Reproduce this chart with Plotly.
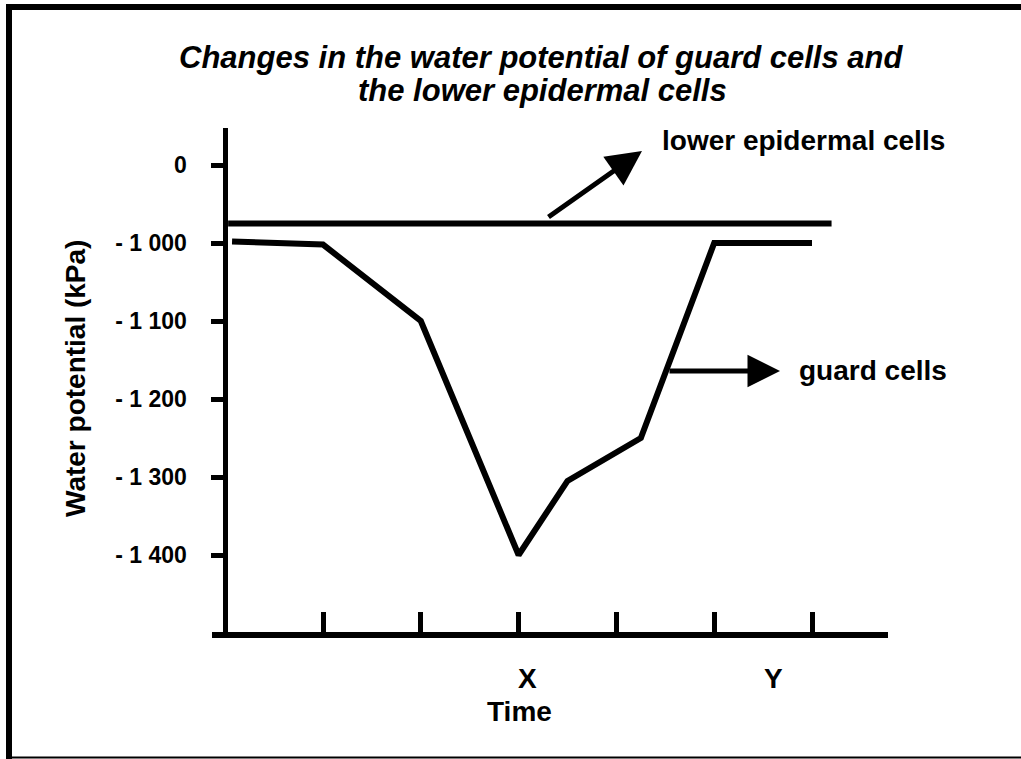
import plotly.graph_objects as go

# ---- data (y values on the displayed scale; the axis is broken so "0" sits one step above -1 000) ----
time_points = [0.07, 1, 2, 3, 3.5, 4.25, 5, 6]
guard_cells = [-998, -1002, -1100, -1400, -1305, -1250, -1000, -1000]
epidermal_time = [0.03, 6.2]
lower_epidermal = [-975, -975]
ytick_vals = [-900, -1000, -1100, -1200, -1300, -1400]
ytick_text = ["0", "- 1 000", "- 1 100", "- 1 200", "- 1 300", "- 1 400"]
xtick_vals = [1, 2, 3, 4, 5, 6]

W, H = 1021, 759
L, R, T, B = 212, 888, 128, 632


def px(x):
    return (x - L) / (R - L)


def py(y):
    return (B - y) / (B - T)


FONT = "Liberation Sans, Arial, sans-serif"

fig = go.Figure()
fig.add_trace(go.Scatter(x=epidermal_time, y=lower_epidermal, mode="lines",
                         line=dict(color="black", width=6), showlegend=False,
                         hoverinfo="skip"))
fig.add_trace(go.Scatter(x=time_points, y=guard_cells, mode="lines",
                         line=dict(color="black", width=6), showlegend=False,
                         hoverinfo="skip"))

ann = []
ann.append(dict(text="<b><i>Changes in the water potential of guard cells and</i></b>",
                xref="paper", yref="paper", x=px(541), y=py(57), xanchor="center",
                yanchor="middle", showarrow=False, font=dict(family=FONT, size=31, color="black")))
ann.append(dict(text="<b><i>the lower epidermal cells</i></b>",
                xref="paper", yref="paper", x=px(542), y=py(90), xanchor="center",
                yanchor="middle", showarrow=False, font=dict(family=FONT, size=31, color="black")))
ann.append(dict(text="<b>Water potential (kPa)</b>", textangle=-90,
                xref="paper", yref="paper", x=px(75), y=py(379), xanchor="center",
                yanchor="middle", showarrow=False, font=dict(family=FONT, size=28, color="black")))
ann.append(dict(text="<b>X</b>", xref="paper", yref="paper", x=px(527), y=py(678),
                xanchor="center", yanchor="middle", showarrow=False,
                font=dict(family=FONT, size=28, color="black")))
ann.append(dict(text="<b>Y</b>", xref="paper", yref="paper", x=px(773), y=py(678),
                xanchor="center", yanchor="middle", showarrow=False,
                font=dict(family=FONT, size=28, color="black")))
ann.append(dict(text="<b>Time</b>", xref="paper", yref="paper", x=px(519), y=py(712),
                xanchor="center", yanchor="middle", showarrow=False,
                font=dict(family=FONT, size=28, color="black")))
ann.append(dict(text="<b>lower epidermal cells</b>", xref="paper", yref="paper",
                x=px(660), y=py(140), xanchor="left", yanchor="middle", showarrow=False,
                font=dict(family=FONT, size=28, color="black")))
ann.append(dict(text="<b>guard cells</b>", xref="paper", yref="paper",
                x=px(797), y=py(370), xanchor="left", yanchor="middle", showarrow=False,
                font=dict(family=FONT, size=28, color="black")))
# arrows
ann.append(dict(text="", xref="paper", yref="paper", x=px(642), y=py(151),
                ax=-95, ay=67, showarrow=True, arrowhead=2, arrowsize=1.4,
                arrowwidth=5, arrowcolor="black"))
ann.append(dict(text="", xref="paper", yref="paper", x=px(780), y=py(371),
                ax=-112, ay=0, showarrow=True, arrowhead=2, arrowsize=1.3,
                arrowwidth=5, arrowcolor="black"))

shapes = [
    dict(type="line", xref="paper", yref="paper", x0=px(9), x1=px(9), y0=py(4), y1=py(759),
         line=dict(color="black", width=6)),
    dict(type="line", xref="paper", yref="paper", x0=px(6), x1=px(1021), y0=py(7), y1=py(7),
         line=dict(color="black", width=6)),
    dict(type="line", xref="paper", yref="paper", x0=px(6), x1=px(1021), y0=py(757.5), y1=py(757.5),
         line=dict(color="black", width=2)),
]

fig.update_layout(
    width=W, height=H, autosize=False,
    margin=dict(l=L, r=W - R, t=T, b=H - B, pad=0),
    paper_bgcolor="white", plot_bgcolor="white",
    showlegend=False,
    annotations=ann, shapes=shapes,
    xaxis=dict(range=[(L - 225.2) / 97.8, (R - 225.2) / 97.8], showgrid=False, zeroline=False,
               showline=True, linecolor="black", linewidth=6,
               ticks="inside", ticklen=20, tickwidth=5, tickcolor="black",
               tickvals=xtick_vals, showticklabels=False, fixedrange=True),
    yaxis=dict(range=[-1000 - (B - 243) / 0.78, -1000 + (243 - T) / 0.78],
               showgrid=False, zeroline=False,
               anchor="free", position=px(224.5),
               showline=True, linecolor="black", linewidth=5,
               ticks="outside", ticklen=12, tickwidth=5, tickcolor="black",
               tickvals=ytick_vals, ticktext=["<b>%s</b>" % t for t in ytick_text],
               ticklabelstandoff=19,
               tickfont=dict(family=FONT, size=23, color="black"),
               fixedrange=True),
)

fig.write_html("out.html", config={"displayModeBar": False},
               post_script="document.body.style.margin='0';document.body.style.overflow='hidden';")
